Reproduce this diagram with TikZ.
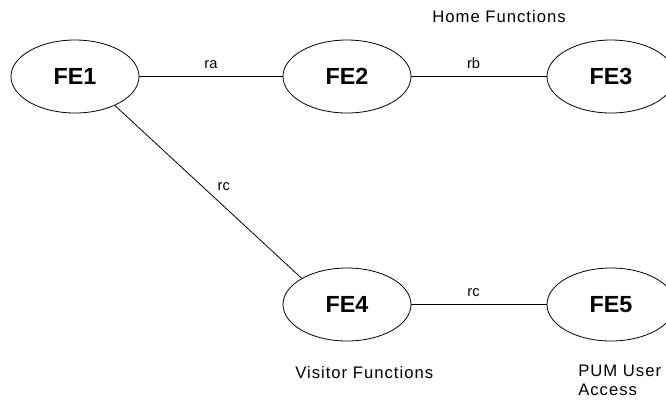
\documentclass[tikz,border=0pt]{standalone}
\usepackage{fontspec}
\setmainfont{Liberation Sans}
\newfontfamily\spacedfont[LetterSpace=6]{Liberation Sans}
\usetikzlibrary{shapes.geometric}

\tikzset{
  fe/.style={shape=ellipse, draw, line width=0.6pt, minimum width=96pt, minimum height=54.75pt, inner sep=0pt, font=\fontsize{17.5}{20}\selectfont\bfseries},
  wire/.style={line width=0.6pt},
  rlabel/.style={font=\fontsize{11}{13}\selectfont, inner sep=3pt},
  caption/.style={font=\spacedfont\fontsize{12.5}{14}\selectfont, inner sep=0pt},
}

\begin{document}
\begin{tikzpicture}[x=0.75pt, y=-0.75pt]
				% Paths, nodes and wires:
				\useasboundingbox (0, 0) rectangle (666, 401);
				\node[fe] (fe1) at (75, 76.5){FE1};
				\node[fe] (fe2) at (347, 76.5){FE2};
				\node[fe] (fe3) at (611, 76.5){FE3};
				\node[fe] (fe4) at (347, 304.5){FE4};
				\node[fe] (fe5) at (611, 304.5){FE5};
				\node[caption] (home) at (499, 17){Home Functions};
				\node[caption, anchor=west] (visitor) at (295, 373){Visitor Functions};
				\node[caption, anchor=north west, align=left] (pum) at (578, 365){PUM User\\Access};
				\draw[wire] (fe1) -- node[rlabel, above=2.5pt] {ra} (fe2);
				\draw[wire] (fe2) -- node[rlabel, above=2.5pt, pos=0.46] {rb} (fe3);
				\draw[wire] (fe1.-36) -- node[rlabel, pos=0.47, right=8pt] {rc} (fe4.150);
				\draw[wire] (fe4) -- node[rlabel, above=2.5pt, pos=0.46] {rc} (fe5);
			\end{tikzpicture}
\end{document}
